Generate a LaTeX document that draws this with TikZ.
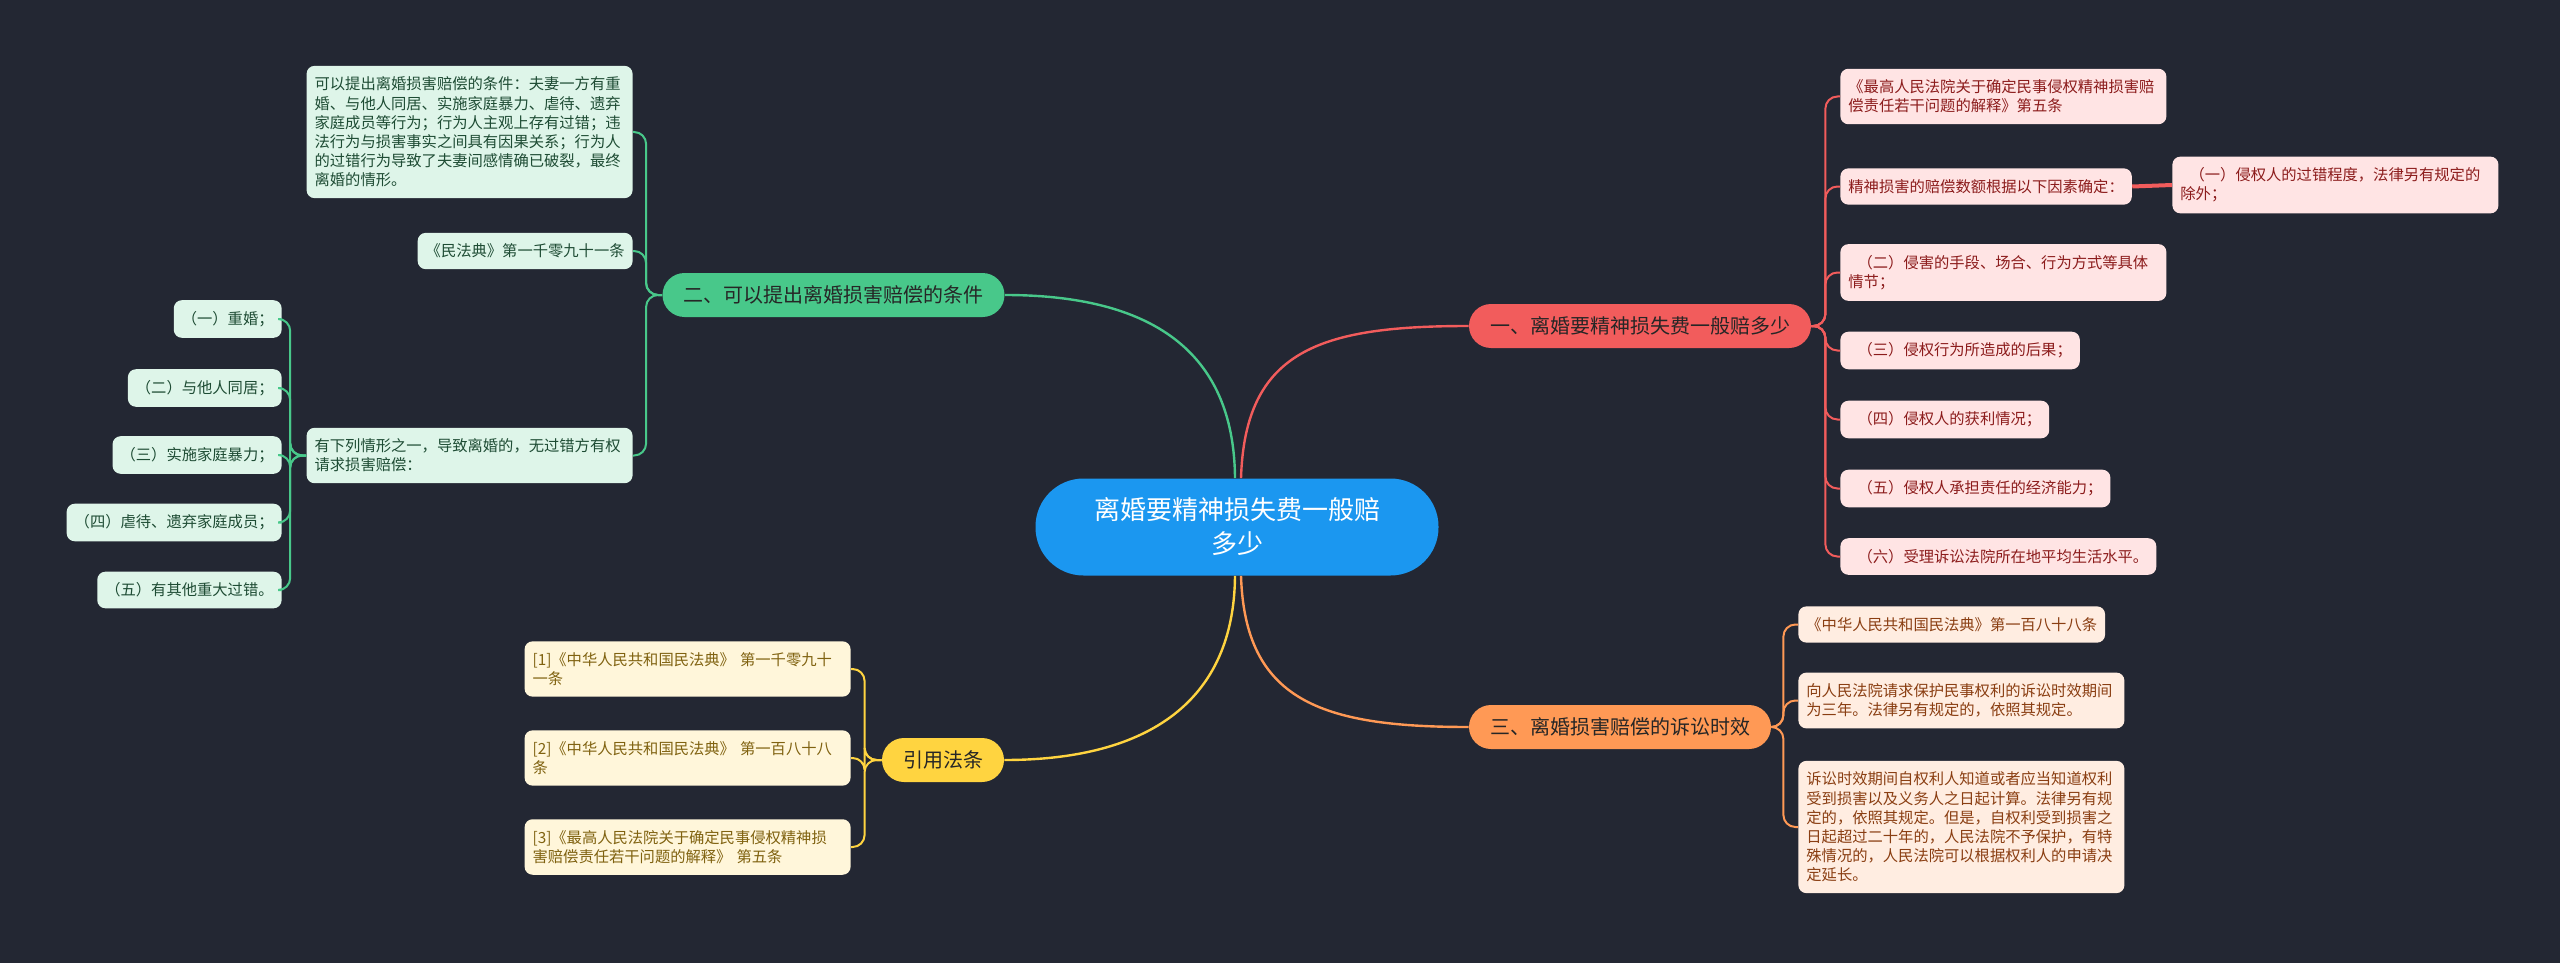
\documentclass[tikz,border=0pt]{standalone}
\usepackage{fontspec}
\setmainfont{Noto Sans CJK SC}
\usetikzlibrary{calc}
\definecolor{bgDark}{RGB}{35,39,51}
\definecolor{rootBlue}{RGB}{27,151,240}
\definecolor{redMain}{RGB}{242,92,92}
\definecolor{redLeaf}{RGB}{255,228,228}
\definecolor{redText}{RGB}{140,28,28}
\definecolor{greenMain}{RGB}{72,200,138}
\definecolor{greenLeaf}{RGB}{222,245,233}
\definecolor{greenText}{RGB}{30,76,52}
\definecolor{orangeMain}{RGB}{255,153,85}
\definecolor{orangeLeaf}{RGB}{255,237,225}
\definecolor{orangeText}{RGB}{138,62,18}
\definecolor{yellowMain}{RGB}{255,212,64}
\definecolor{yellowLeaf}{RGB}{255,246,218}
\definecolor{yellowText}{RGB}{128,98,16}
\tikzset{
  leaf/.style={rounded corners=4pt,inner xsep=4pt,inner ysep=5.5pt,align=left,
    font={\fontsize{7.65}{9.6}\selectfont}},
  wideleaf/.style={leaf,text width=155pt},
  branch/.style={rounded corners=11pt,inner xsep=10.5pt,inner ysep=6pt,minimum height=22pt,
    font={\fontsize{10}{12}\selectfont}},
  redleaf/.style={fill=redLeaf,text=redText,anchor=west},
  greenleaf/.style={fill=greenLeaf,text=greenText,anchor=east},
  orangeleaf/.style={fill=orangeLeaf,text=orangeText,anchor=west},
  yellowleaf/.style={fill=yellowLeaf,text=yellowText,anchor=east},
  mainln/.style={line width=1.2pt},
  subln/.style={line width=1pt,rounded corners=6pt}
}
\begin{document}
\begin{tikzpicture}[x=0.5pt,y=-0.5pt]
\fill[bgDark] (0,0) rectangle (2560,963);
\useasboundingbox (0,0) rectangle (2560,963);

% root and the four branches
\node[fill=rootBlue,text=white,rounded corners=24pt,minimum width=201.5pt,minimum height=48.5pt,
  align=center,font={\fontsize{13}{17}\selectfont}] (root) at (1237,527) {离婚要精神损失费一般赔\\多少};
\node[branch,fill=redMain,text=black!85] (b1) at (1640,326) {一、离婚要精神损失费一般赔多少};
\node[branch,fill=greenMain,text=black!85] (b2) at (833.5,295) {二、可以提出离婚损害赔偿的条件};
\node[branch,fill=orangeMain,text=black!85] (b3) at (1620,727) {三、离婚损害赔偿的诉讼时效};
\node[branch,fill=yellowMain,text=black!85] (b4) at (943,760) {引用法条};

\draw[mainln,redMain] ([xshift=2pt]root.north) .. controls (1245,350) and (1320,326) .. (b1.west);
\draw[mainln,greenMain] ([xshift=-1pt]root.north) .. controls (1234,350) and (1150,295) .. (b2.east);
\draw[mainln,orangeMain] ([xshift=2pt]root.south) .. controls (1245,700) and (1320,727) .. (b3.west);
\draw[mainln,yellowMain] ([xshift=-1pt]root.south) .. controls (1234,700) and (1150,760) .. (b4.east);

% red
\node[wideleaf,redleaf] (r1) at (1840,96.5) {《最高人民法院关于确定民事侵权精神损害赔\\偿责任若干问题的解释》第五条};
\node[leaf,redleaf] (r2) at (1840,186.5) {精神损害的赔偿数额根据以下因素确定：};
\node[wideleaf,redleaf] (r2a) at (2172,185) {\hspace*{0.6em}（一）侵权人的过错程度，法律另有规定的\\除外；};
\node[wideleaf,redleaf] (r3) at (1840,272.5) {\hspace*{0.6em}（二）侵害的手段、场合、行为方式等具体\\情节；};
\node[leaf,redleaf] (r4) at (1840,350.5) {\hspace*{0.6em}（三）侵权行为所造成的后果；};
\node[leaf,redleaf] (r5) at (1840,419.5) {\hspace*{0.6em}（四）侵权人的获利情况；};
\node[leaf,redleaf] (r6) at (1840,488.5) {\hspace*{0.6em}（五）侵权人承担责任的经济能力；};
\node[leaf,redleaf] (r7) at (1840,556.5) {\hspace*{0.6em}（六）受理诉讼法院所在地平均生活水平。};
\foreach \n in {r1,r2,r3,r4,r5,r6,r7}
  \draw[subln,redMain] (b1.east) -- ++(14,0) |- (\n.west);
\draw[redMain,line width=2pt] (r2.east) -- (r2a.west);

% orange
\node[leaf,orangeleaf] (o1) at (1798,624.5) {《中华人民共和国民法典》第一百八十八条};
\node[wideleaf,orangeleaf] (o2) at (1798,700.5) {向人民法院请求保护民事权利的诉讼时效期间\\为三年。法律另有规定的，依照其规定。};
\node[wideleaf,orangeleaf] (o3) at (1798,827) {诉讼时效期间自权利人知道或者应当知道权利\\受到损害以及义务人之日起计算。法律另有规\\定的，依照其规定。但是，自权利受到损害之\\日起超过二十年的，人民法院不予保护，有特\\殊情况的，人民法院可以根据权利人的申请决\\定延长。};
\foreach \n in {o1,o2,o3}
  \draw[subln,orangeMain] (b3.east) -- ++(12,0) |- (\n.west);

% green
\node[wideleaf,greenleaf] (g1) at (633,132) {可以提出离婚损害赔偿的条件：夫妻一方有重\\婚、与他人同居、实施家庭暴力、虐待、遗弃\\家庭成员等行为；行为人主观上存有过错；违\\法行为与损害事实之间具有因果关系；行为人\\的过错行为导致了夫妻间感情确已破裂，最终\\离婚的情形。};
\node[leaf,greenleaf] (g2) at (633,251) {《民法典》第一千零九十一条};
\node[wideleaf,greenleaf] (g3) at (633,455.5) {有下列情形之一，导致离婚的，无过错方有权\\请求损害赔偿：};
\node[leaf,greenleaf] (g3a) at (282,319) {（一）重婚；};
\node[leaf,greenleaf] (g3b) at (282,388) {（二）与他人同居；};
\node[leaf,greenleaf] (g3c) at (282,455) {（三）实施家庭暴力；};
\node[leaf,greenleaf] (g3d) at (282,522.5) {（四）虐待、遗弃家庭成员；};
\node[leaf,greenleaf] (g3e) at (282,590) {（五）有其他重大过错。};
\foreach \n in {g1,g2,g3}
  \draw[subln,greenMain] (b2.west) -- ++(-16,0) |- (\n.east);
\foreach \n in {g3a,g3b,g3c,g3d,g3e}
  \draw[subln,greenMain] (g3.west) -- ++(-16,0) |- (\n.east);

% yellow
\node[wideleaf,yellowleaf] (y1) at (851,669) {[1]《中华人民共和国民法典》 第一千零九十\\一条};
\node[wideleaf,yellowleaf] (y2) at (851,758) {[2]《中华人民共和国民法典》 第一百八十八\\条};
\node[wideleaf,yellowleaf] (y3) at (851,847) {[3]《最高人民法院关于确定民事侵权精神损\\害赔偿责任若干问题的解释》 第五条};
\foreach \n in {y1,y2,y3}
  \draw[subln,yellowMain] (b4.west) -- ++(-17,0) |- (\n.east);
\end{tikzpicture}
\end{document}
